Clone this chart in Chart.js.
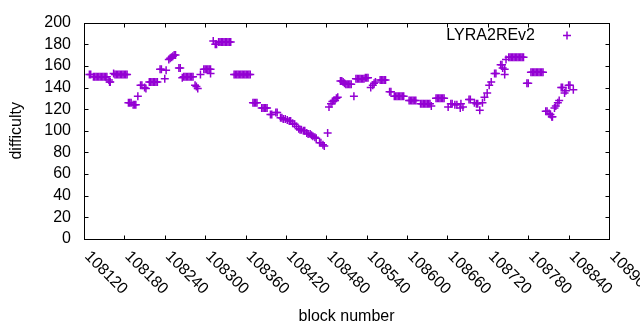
<!DOCTYPE html>
<html>
<head>
<meta charset="utf-8">
<script src="https://cdn.jsdelivr.net/npm/chart.js@4"></script>
<style>
  body { margin: 0; background: #fff; }
  #wrap { width: 640px; height: 330px; }
</style>
</head>
<body>
<div id="wrap"><canvas id="chart"></canvas></div>
<script>
const seriesName = "LYRA2REv2";
const xTitle = "block number";
const yTitle = "difficulty";
const xMin = 108120, xMax = 108900, xStep = 60;
const yMin = 0, yMax = 200, yStep = 20;

// block numbers and difficulty
const blocks = [
  108128, 108130,
  108134, 108136, 108138, 108140, 108142, 108144, 108146, 108148, 108150, 108152, 108154,
  108157, 108158, 108159,
  108164, 108166, 108168, 108170, 108172, 108174, 108176, 108178, 108180, 108182, 108184,
  108186, 108188, 108190, 108193, 108195, 108197,
  108200, 108204, 108206, 108210, 108212,
  108217, 108219, 108221, 108223, 108225, 108227, 108229,
  108233, 108235, 108240, 108242,
  108246, 108248, 108250, 108252, 108254, 108256,
  108261, 108263,
  108266, 108268, 108270, 108272, 108274, 108276, 108278, 108280, 108282,
  108285, 108287, 108289, 108293,
  108298, 108300, 108302, 108304, 108306, 108308, 108308,
  108312, 108315, 108317,
  108320, 108322, 108324, 108326, 108328, 108330, 108332, 108334, 108336, 108338,
  108343, 108345, 108347, 108349, 108351, 108353, 108355, 108357, 108359, 108361, 108363, 108365, 108367,
  108371, 108373, 108375, 108377,
  108384, 108386, 108388, 108390, 108392,
  108397, 108399, 108405, 108407,
  108412, 108414, 108416, 108419, 108422, 108425, 108427, 108430, 108433, 108436,
  108439, 108441, 108443, 108446, 108448, 108451, 108453, 108456, 108458, 108460, 108463, 108465,
  108470, 108472, 108475, 108477, 108482,
  108484, 108487, 108489, 108491, 108493, 108495, 108497,
  108501, 108503, 108505, 108507, 108509, 108511, 108513, 108515, 108517,
  108521,
  108524, 108526, 108528, 108530, 108532, 108534, 108536, 108538, 108540, 108542,
  108546, 108549, 108551, 108553,
  108560, 108562, 108564, 108566, 108568,
  108574, 108576,
  108581, 108583, 108585, 108587, 108589, 108591, 108593, 108595,
  108603, 108605, 108607, 108609, 108611, 108613,
  108620, 108622, 108624, 108626, 108628, 108630, 108632, 108634, 108636,
  108643, 108645, 108647, 108649, 108651, 108653, 108655,
  108661, 108665, 108667, 108671, 108674, 108679, 108680, 108683,
  108692, 108694, 108700, 108703, 108705, 108708,
  108712, 108715, 108719, 108722, 108725,
  108730, 108732, 108739, 108741, 108742, 108745, 108745, 108747,
  108751, 108753, 108755, 108757, 108759, 108761, 108763, 108765, 108767, 108769, 108771, 108773,
  108778, 108780,
  108784, 108786, 108788, 108790, 108792, 108794, 108796, 108798, 108800, 108802,
  108806, 108808, 108811, 108813, 108815, 108816,
  108819, 108821, 108824, 108826,
  108829, 108831, 108834, 108836,
  108840, 108842, 108847
];
const difficulty = [
  152, 152,
  150, 150, 150, 150, 150, 150, 150, 150, 150, 150, 150,
  147, 145, 145,
  153, 152, 152, 152, 152, 152, 152, 152, 152, 152, 152,
  126, 126, 126, 124, 124, 124,
  132, 142, 142, 140, 139,
  145, 145, 145, 145, 145, 145, 145,
  157, 157, 148, 156,
  166, 167, 168, 169, 170, 170,
  158, 158,
  149, 150, 150, 150, 150, 150, 150, 150, 150,
  142, 141, 139, 152,
  157, 157, 157, 157, 157, 157, 153,
  183, 180, 180,
  182, 182, 182, 182, 182, 182, 182, 182, 182, 182,
  152, 152, 152, 152, 152, 152, 152, 152, 152, 152, 152, 152, 152,
  126, 126, 126, 126,
  121, 121, 121, 121, 121,
  115, 115, 117, 117,
  112, 112, 111, 111, 110, 109, 109, 107, 106, 104,
  102, 101, 101, 100, 100, 98, 97, 97, 96, 95, 94, 93,
  89, 89, 87, 86, 98,
  122, 125, 127, 128, 128, 130, 131,
  146, 146, 145, 144, 143, 143, 143, 143, 143,
  132,
  148, 148, 148, 148, 148, 148, 148, 149, 149, 149,
  140, 142, 144, 145,
  147, 147, 147, 147, 147,
  136, 136,
  132, 132, 132, 132, 132, 132, 132, 132,
  128, 128, 128, 128, 128, 128,
  125, 125, 125, 125, 125, 125, 125, 125, 123,
  130, 130, 130, 130, 130, 130, 130,
  122, 125, 125, 124, 124, 121, 125, 122,
  129, 129, 126, 125, 125, 119,
  126, 131, 135, 142, 145,
  153, 153, 161, 161, 158, 157, 152, 166,
  168, 168, 168, 168, 168, 168, 168, 168, 168, 168, 168, 168,
  144, 144,
  154, 154, 154, 154, 154, 154, 154, 154, 154, 154,
  118, 118, 116, 115, 113, 113,
  121, 123, 126, 128,
  140, 140, 135, 137,
  142, 142, 138
];

const markColor = "#9400d3";
const fontFamily = "'Liberation Sans', Arial, sans-serif";
const fontSize = 16;

const framePlugin = {
  id: "frame",
  afterDraw(chart) {
    const ctx = chart.ctx;
    const a = chart.chartArea;
    const x = chart.scales.x, y = chart.scales.y;
    const L = Math.round(a.left) + 0.5, R = Math.round(a.right) + 0.5;
    const T = Math.round(a.top) + 0.5, B = Math.round(a.bottom) + 0.5;
    ctx.save();
    ctx.strokeStyle = "#000";
    ctx.lineWidth = 1;
    ctx.strokeRect(L, T, R - L, B - T);
    ctx.beginPath();
    x.ticks.forEach(t => {
      const px = Math.round(x.getPixelForValue(t.value)) + 0.5;
      ctx.moveTo(px, B); ctx.lineTo(px, B - 4);
      ctx.moveTo(px, T); ctx.lineTo(px, T + 4);
    });
    y.ticks.forEach(t => {
      const py = Math.round(y.getPixelForValue(t.value)) + 0.5;
      ctx.moveTo(L, py); ctx.lineTo(L + 4, py);
      ctx.moveTo(R, py); ctx.lineTo(R - 4, py);
    });
    ctx.stroke();

    // rotated x tick labels, gnuplot style
    ctx.fillStyle = "#000";
    ctx.font = fontSize + "px " + fontFamily;
    ctx.textAlign = "left";
    ctx.textBaseline = "middle";
    x.ticks.forEach(t => {
      const px = x.getPixelForValue(t.value);
      ctx.save();
      ctx.translate(px + 3, a.bottom + 15);
      ctx.rotate(Math.PI / 4);
      ctx.fillText(String(t.value), 0, 0);
      ctx.restore();
    });

    // key in the top right corner
    ctx.textAlign = "right";
    ctx.fillText(seriesName, a.right - 74, a.top + 13);
    const kx = a.right - 42, ky = a.top + 13;
    ctx.strokeStyle = markColor;
    ctx.lineWidth = 1.5;
    ctx.beginPath();
    ctx.moveTo(kx - 4, ky); ctx.lineTo(kx + 4, ky);
    ctx.moveTo(kx, ky - 4); ctx.lineTo(kx, ky + 4);
    ctx.stroke();
    ctx.restore();
  }
};

new Chart(document.getElementById("chart"), {
  type: "scatter",
  data: {
    datasets: [{
      label: seriesName,
      data: blocks.map((b, i) => ({ x: b, y: difficulty[i] })),
      pointStyle: "cross",
      radius: 4,
      borderWidth: 1.5,
      borderColor: markColor,
      backgroundColor: markColor
    }]
  },
  plugins: [framePlugin],
  options: {
    responsive: true,
    maintainAspectRatio: false,
    animation: false,
    layout: { padding: { top: 19, right: 31, left: 0, bottom: 0 } },
    plugins: { legend: { display: false }, tooltip: { enabled: false } },
    scales: {
      x: {
        type: "linear",
        min: xMin, max: xMax,
        ticks: { display: false, stepSize: xStep, autoSkip: false },
        grid: { display: false, drawTicks: false },
        border: { display: false },
        title: { display: true, text: xTitle, color: "#000", font: { family: fontFamily, size: fontSize }, padding: { bottom: 4 } },
        afterFit: s => { s.height = 91; }
      },
      y: {
        min: yMin, max: yMax,
        ticks: { stepSize: yStep, autoSkip: false, color: "#000", padding: 13, font: { family: fontFamily, size: fontSize } },
        grid: { display: false, drawTicks: false },
        border: { display: false },
        title: { display: true, text: yTitle, color: "#000", font: { family: fontFamily, size: fontSize }, padding: { top: 7 } },
        afterFit: s => { s.width = 84; }
      }
    }
  }
});
</script>
</body>
</html>
